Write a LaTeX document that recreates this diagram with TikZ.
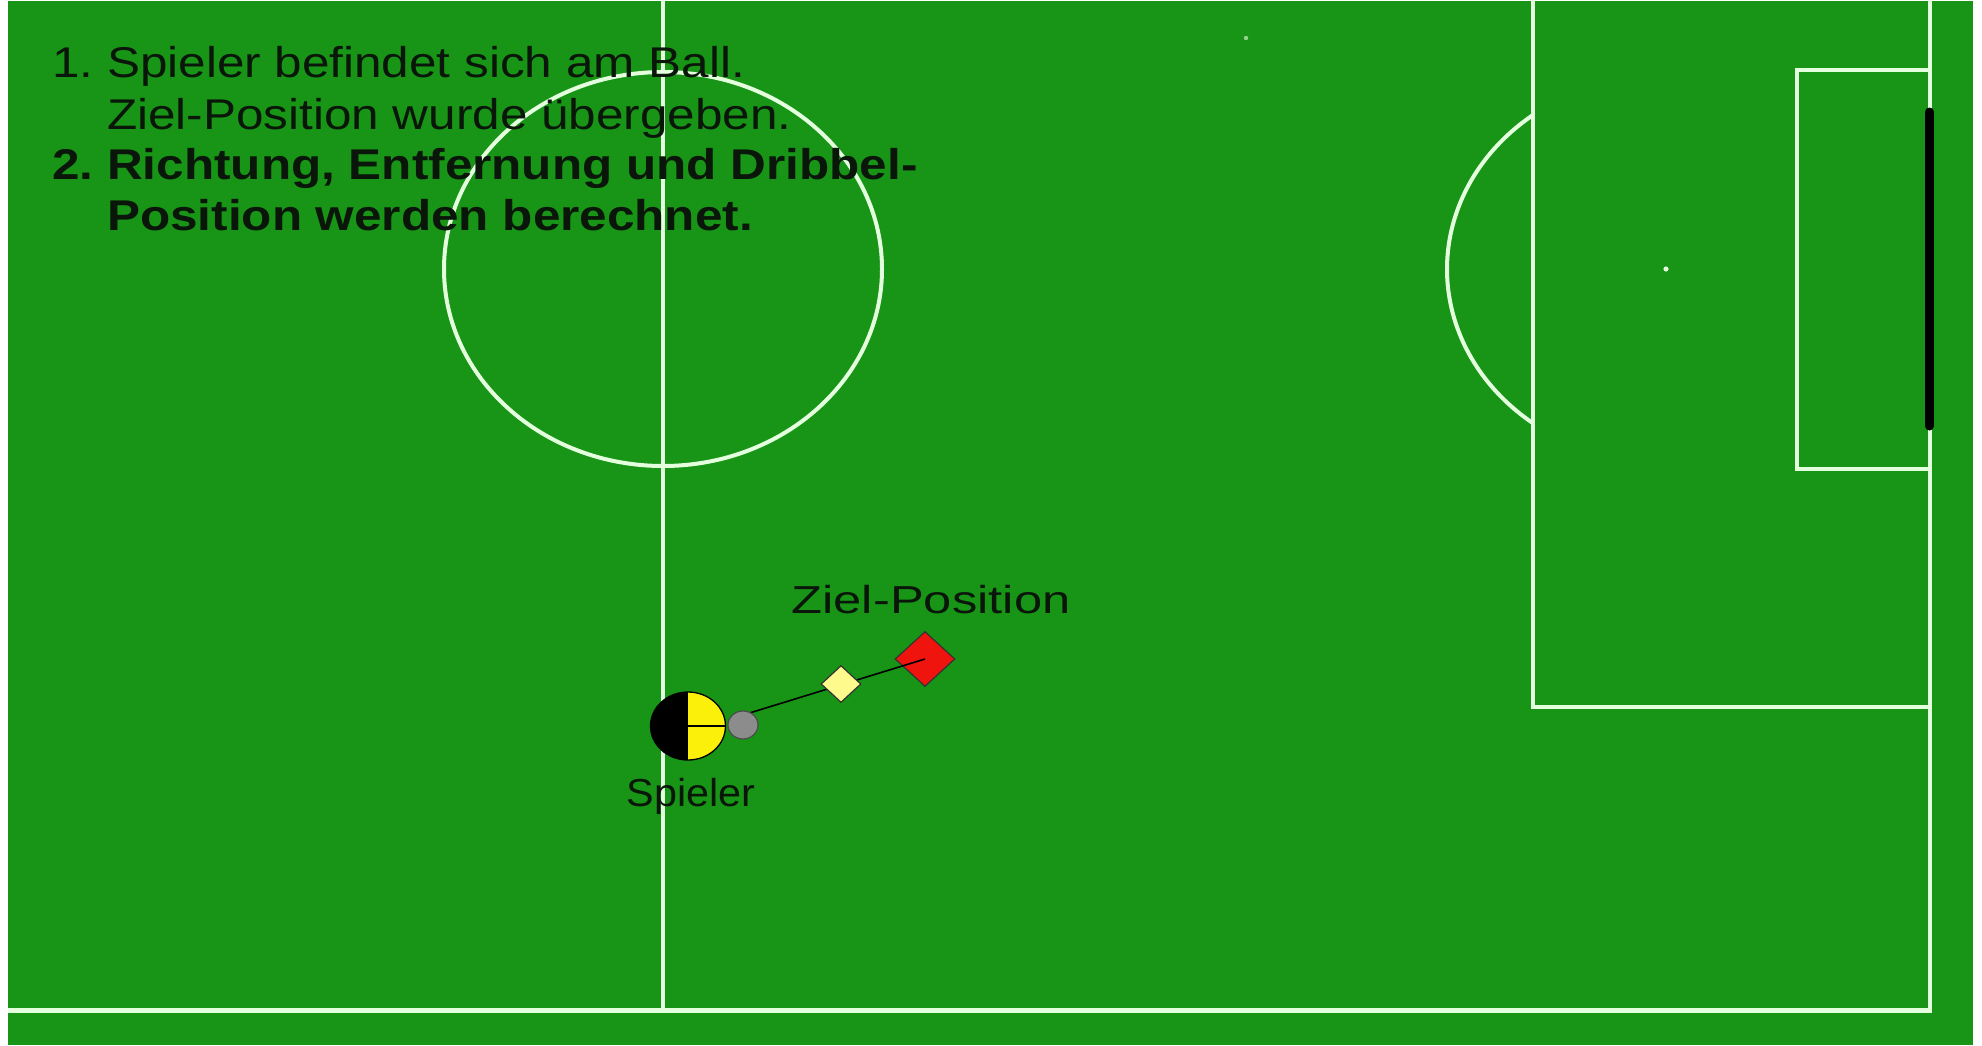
\documentclass[tikz,border=0pt]{standalone}
\usepackage{fontspec}
\setmainfont{Liberation Sans}
\newfontfamily\toptext[FakeStretch=1.15]{Liberation Sans}
\newfontfamily\lblz[FakeStretch=1.3]{Liberation Sans}
\newfontfamily\lbls[FakeStretch=1.06]{Liberation Sans}
\usetikzlibrary{shapes.geometric}
\definecolor{fieldgreen}{RGB}{24,148,22}
\definecolor{linecol}{RGB}{228,255,222}
\definecolor{txtcol}{RGB}{10,22,10}
\definecolor{plyellow}{RGB}{250,240,10}
\definecolor{viayellow}{RGB}{255,250,140}
\definecolor{tgtred}{RGB}{240,20,15}
\definecolor{ballgray}{RGB}{140,140,140}
\begin{document}
\begin{tikzpicture}[x=1pt,y=-1pt,
  fieldline/.style={draw=linecol,line width=4pt},
  toplinetxt/.style={anchor=base west,inner sep=0pt,text=txtcol,font=\toptext\fontsize{43}{51}\selectfont},
  marker/.style={diamond,draw=black!80,line width=1.2pt,inner sep=0pt}]
\useasboundingbox (0,0) rectangle (1982,1045);
\fill[white] (0,0) rectangle (1982,1045);
\fill[fieldgreen] (8,1) rectangle (1973,1045);
% field markings
\draw[fieldline] (663,0) -- (663,1010);
\draw[fieldline] (1930,0) -- (1930,1010);
\draw[draw=linecol,line width=5pt] (8,1010) -- (1932,1010);
\draw[fieldline] (1533,0) -- (1533,707) -- (1930,707);
\draw[fieldline] (1930,70) -- (1797,70) -- (1797,469) -- (1930,469);
\draw[fieldline] (663,269) ellipse [x radius=219pt, y radius=197pt];
\draw[fieldline] (1533,115) arc [start angle=127.4, end angle=232.6, x radius=219pt, y radius=194pt];
\draw[black,line width=9pt,line cap=round] (1929.5,112) -- (1929.5,426);
\fill[linecol] (1666,269) circle [radius=2.6pt];
\fill[linecol!60!fieldgreen] (1246,38) circle [radius=2.2pt];
% top text
\node[toplinetxt] (n1) at (52,77) {1.};
\node[toplinetxt] (t1) at (107,77) {Spieler befindet sich am Ball.};
\node[toplinetxt] (t2) at (107,129) {Ziel-Position wurde übergeben.};
\node[toplinetxt,font=\toptext\bfseries\fontsize{43}{51}\selectfont] (n2) at (52,179) {2.};
\node[toplinetxt,font=\toptext\bfseries\fontsize{43}{51}\selectfont] (t3) at (107,179) {Richtung, Entfernung und Dribbel-};
\node[toplinetxt,font=\toptext\bfseries\fontsize{43}{51}\selectfont] (t4) at (107,230) {Position werden berechnet.};
% objects
\node[marker,fill=tgtred,minimum width=60pt,minimum height=55pt] (target) at (925,659) {};
\coordinate (lstart) at (743,715);
\draw[black,line width=1.6pt] (lstart) -- (target.center);
\node[marker,fill=viayellow,minimum width=40pt,minimum height=37pt] (via) at (841,684) {};
\node[ellipse,draw=black,line width=1.3pt,fill=plyellow,minimum width=75pt,minimum height=68pt,inner sep=0pt,
  path picture={
    \fill[black] (path picture bounding box.north west) rectangle (path picture bounding box.south);
    \draw[black,line width=1.3pt] (path picture bounding box.center) -- (path picture bounding box.east);
  }] (player) at (688,726) {};
\node[ellipse,draw=black!70,line width=1.2pt,fill=ballgray,minimum width=30pt,minimum height=28pt,inner sep=0pt] (ball) at (743,725) {};
% labels
\node[anchor=base,inner sep=0pt,text=txtcol,font=\lblz\fontsize{39}{46}\selectfont] (zlabel) at (931,613) {Ziel-Position};
\node[anchor=base,inner sep=0pt,text=txtcol,font=\lbls\fontsize{39}{46}\selectfont] (slabel) at (691,806) {Spieler};
\end{tikzpicture}
\end{document}
